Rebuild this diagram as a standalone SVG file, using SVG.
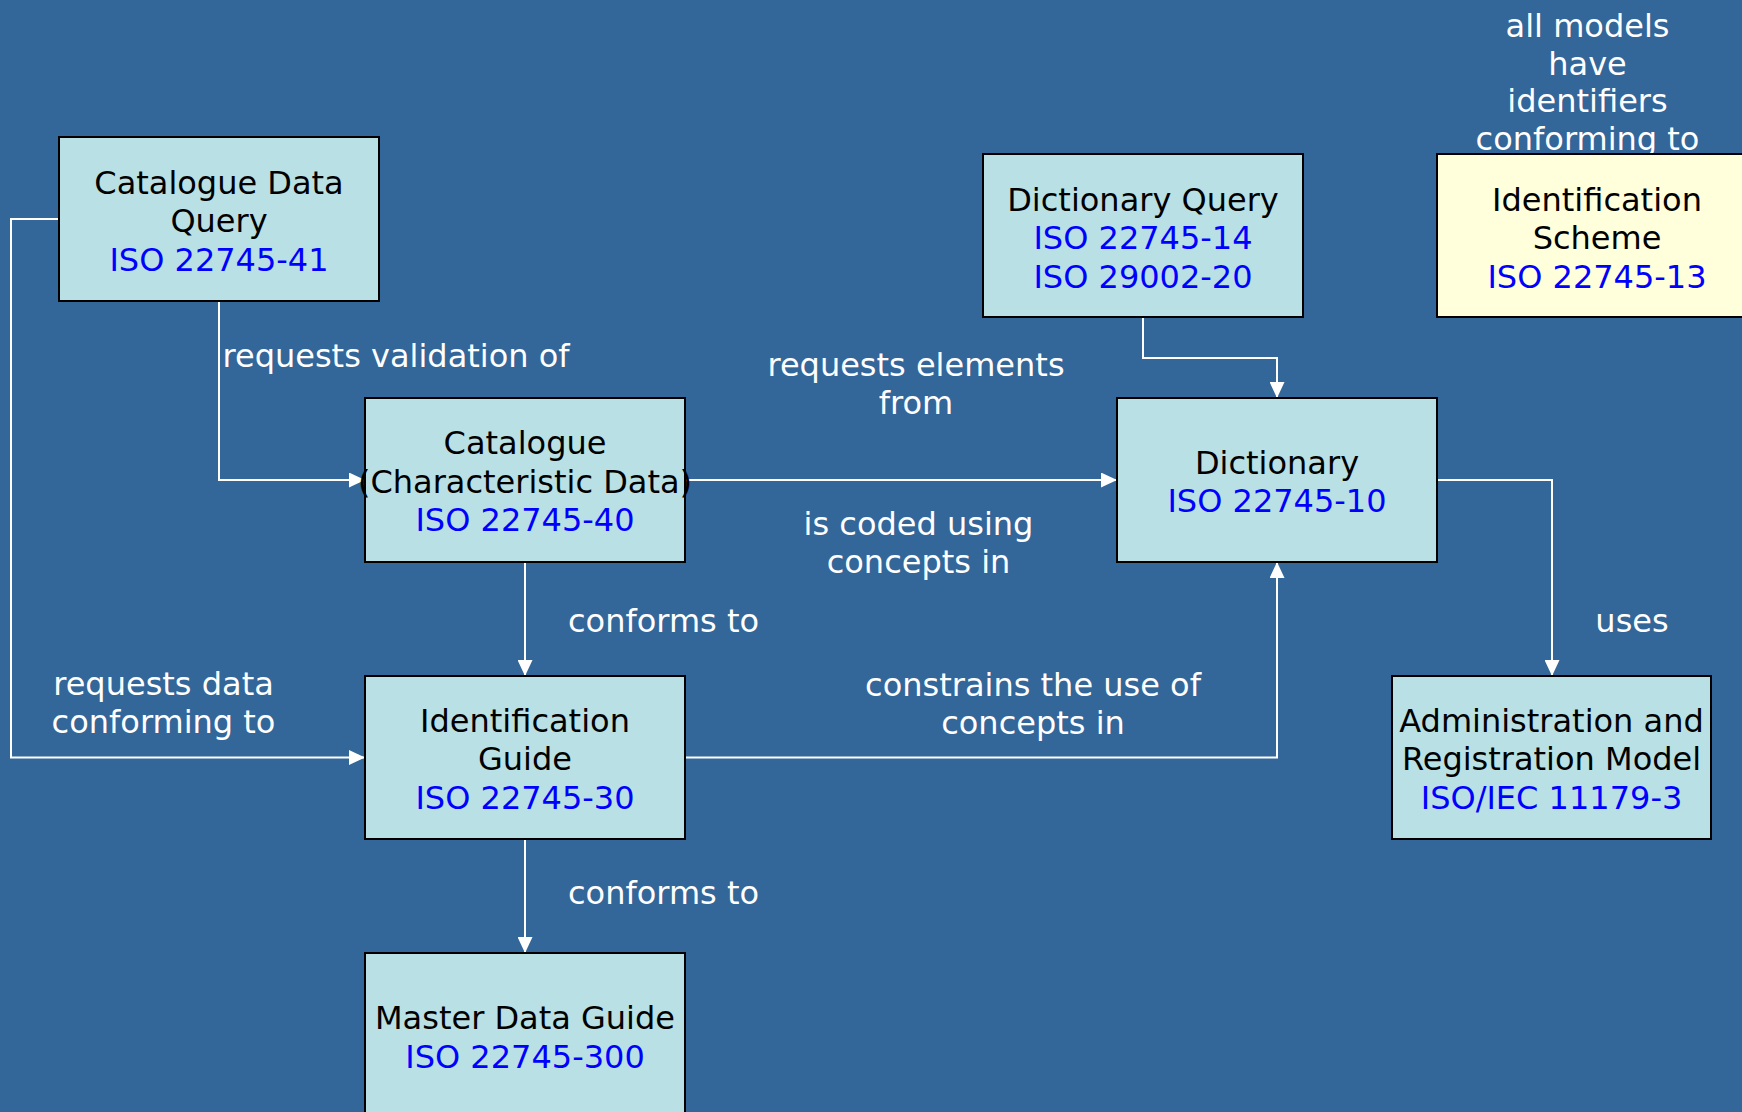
<svg xmlns="http://www.w3.org/2000/svg" width="1742" height="1112" viewBox="0 0 1742 1112">
  <style>
    text { font-family: "DejaVu Sans", "Noto Sans", sans-serif; font-size: 32px; }
    .box { fill: #b9e0e4; stroke: #000000; stroke-width: 2; }
    .scheme { fill: #ffffdc; stroke: #000000; stroke-width: 2; }
    .name { fill: #000000; text-anchor: middle; }
    .std { fill: #0000ff; }
    .edge { fill: none; stroke: #ffffff; stroke-width: 2; marker-end: url(#arrow); }
    .label { fill: #ffffff; text-anchor: middle; }
  </style>
  <defs>
    <marker id="arrow" markerUnits="userSpaceOnUse" markerWidth="16" markerHeight="15" refX="16" refY="7.5" orient="auto">
      <path d="M0,0 L16,7.5 L0,15 z" fill="#ffffff"/>
    </marker>
  </defs>

  <rect width="1742" height="1112" fill="#336699"/>

  <!-- connectors and their labels -->
  <g id="connectors">
    <path class="edge" d="M219,301 V480 H365"/>
    <path class="edge" d="M59,219 H11 V757.5 H365"/>
    <path class="edge" d="M685,480 H1117"/>
    <path class="edge" d="M525,562 V676"/>
    <path class="edge" d="M685,757.5 H1277 V562"/>
    <path class="edge" d="M1143,317 V358 H1277 V398"/>
    <path class="edge" d="M1437,480 H1552 V676"/>
    <path class="edge" d="M525,839 V953"/>

    <text class="label" x="222.5" y="367" style="text-anchor:start">requests validation of</text>
    <text class="label" x="916" y="376">requests elements<tspan x="916" dy="37.5">from</tspan></text>
    <text class="label" x="918.5" y="535">is coded using<tspan x="918.5" dy="38">concepts in</tspan></text>
    <text class="label" x="163.5" y="695">requests data<tspan x="163.5" dy="38">conforming to</tspan></text>
    <text class="label" x="663.5" y="631.5">conforms to</text>
    <text class="label" x="1033" y="696">constrains the use of<tspan x="1033" dy="37.5">concepts in</tspan></text>
    <text class="label" x="1632" y="632">uses</text>
    <text class="label" x="663.5" y="904">conforms to</text>
    <text class="label" x="1587.5" y="36.5">all models<tspan x="1587.5" dy="38">have</tspan><tspan x="1587.5" dy="37.7">identifiers</tspan><tspan x="1587.5" dy="37.6">conforming to</tspan></text>
  </g>

  <!-- nodes -->
  <g id="catalogue-data-query">
    <rect class="box" x="59" y="137" width="320" height="164"/>
    <text class="name" x="219" y="193.5">Catalogue Data<tspan x="219" dy="38.5">Query</tspan><tspan class="std" x="219" dy="38.5">ISO 22745-41</tspan></text>
  </g>

  <g id="catalogue">
    <rect class="box" x="365" y="398" width="320" height="164"/>
    <text class="name" x="525" y="454">Catalogue<tspan x="525" dy="38.5">(Characteristic Data)</tspan><tspan class="std" x="525" dy="38.5">ISO 22745-40</tspan></text>
  </g>

  <g id="dictionary-query">
    <rect class="box" x="983" y="154" width="320" height="163"/>
    <text class="name" x="1143" y="210.5">Dictionary Query<tspan class="std" x="1143" dy="38.5">ISO 22745-14</tspan><tspan class="std" x="1143" dy="38.5">ISO 29002-20</tspan></text>
  </g>

  <g id="identification-scheme">
    <rect class="scheme" x="1437" y="154" width="320" height="163"/>
    <text class="name" x="1597" y="210.5">Identification<tspan x="1597" dy="38.5">Scheme</tspan><tspan class="std" x="1597" dy="38.5">ISO 22745-13</tspan></text>
  </g>

  <g id="dictionary">
    <rect class="box" x="1117" y="398" width="320" height="164"/>
    <text class="name" x="1277" y="473.5">Dictionary<tspan class="std" x="1277" dy="38.5">ISO 22745-10</tspan></text>
  </g>

  <g id="identification-guide">
    <rect class="box" x="365" y="676" width="320" height="163"/>
    <text class="name" x="525" y="731.5">Identification<tspan x="525" dy="38.5">Guide</tspan><tspan class="std" x="525" dy="38.5">ISO 22745-30</tspan></text>
  </g>

  <g id="administration-registration-model">
    <rect class="box" x="1392" y="676" width="319" height="163"/>
    <text class="name" x="1551.5" y="731.5">Administration and<tspan x="1551.5" dy="38.5">Registration Model</tspan><tspan class="std" x="1551.5" dy="38.5">ISO/IEC 11179-3</tspan></text>
  </g>

  <g id="master-data-guide">
    <rect class="box" x="365" y="953" width="320" height="164"/>
    <text class="name" x="525" y="1029">Master Data Guide<tspan class="std" x="525" dy="38.5">ISO 22745-300</tspan></text>
  </g>
</svg>
